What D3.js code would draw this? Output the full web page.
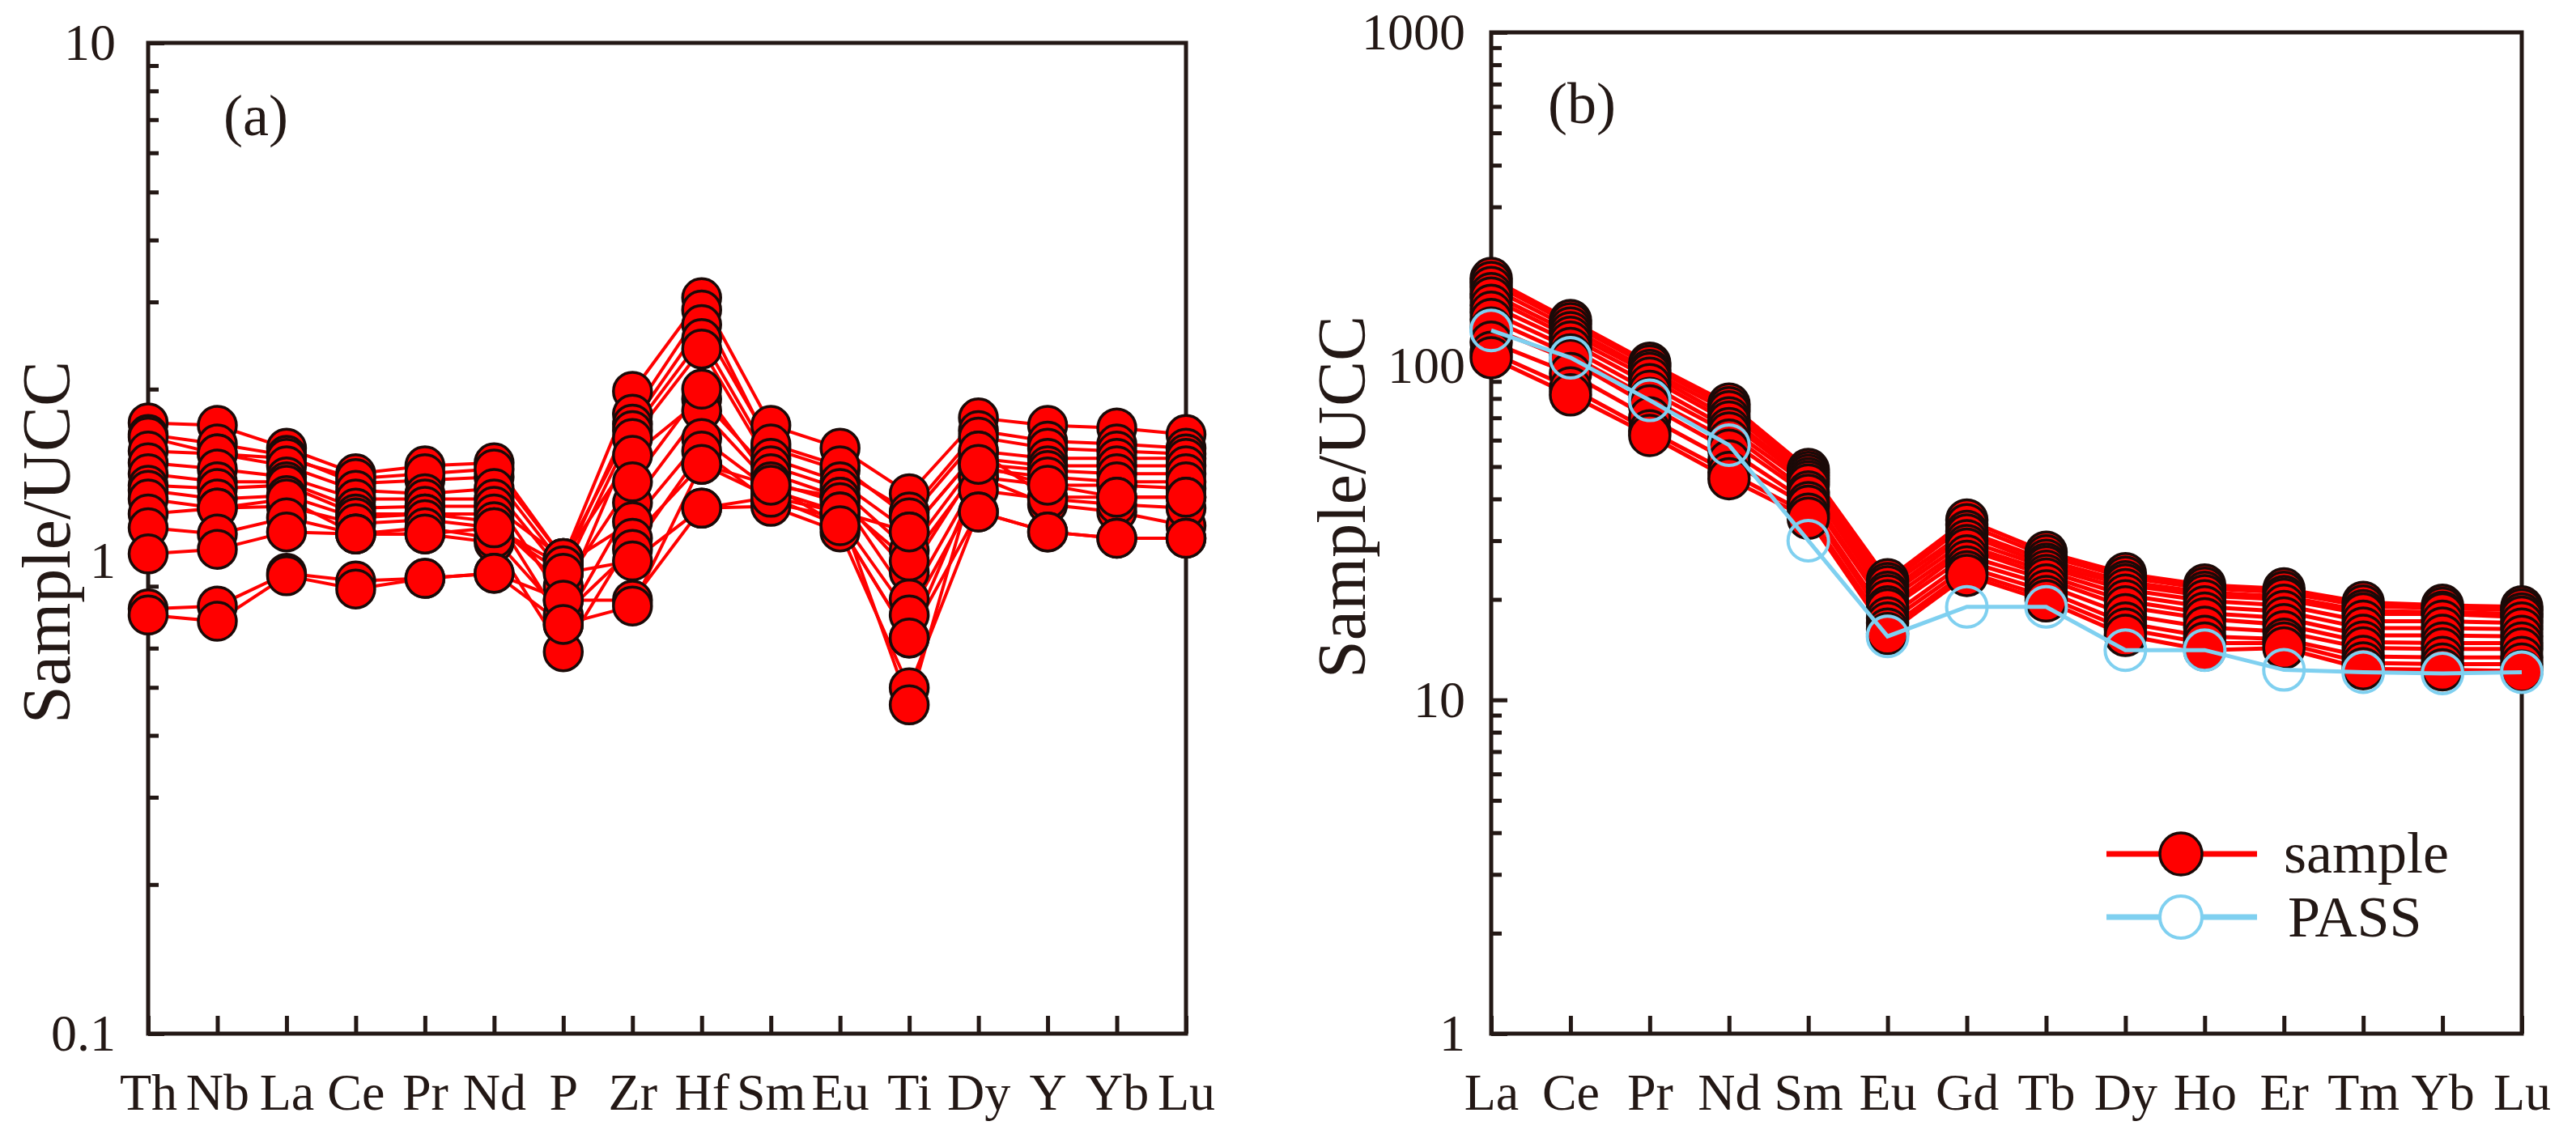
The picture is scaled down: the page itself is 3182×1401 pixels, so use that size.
<!DOCTYPE html>
<html>
<head>
<meta charset="utf-8">
<script src="https://cdn.jsdelivr.net/npm/d3@7"></script>
<style>
  body { margin: 0; background: #ffffff; }
  #chart { width: 3182px; height: 1401px; }
  svg, svg text { font-family: "Liberation Serif", "Times New Roman", Times, serif !important; }
</style>
</head>
<body>
<div id="chart"></div>
<script>

/*   0. DATA   */

// (a) trace elements normalised to upper continental crust
const elementsA = ["Th", "Nb", "La", "Ce", "Pr", "Nd", "P", "Zr", "Hf", "Sm", "Eu", "Ti", "Dy", "Y", "Yb", "Lu"];
const samplesA = [
    [1.71, 1.69, 1.52, 1.35, 1.40, 1.42, 0.91, 1.98, 3.06, 1.69, 1.52, 1.23, 1.75, 1.69, 1.67, 1.62],
    [1.62, 1.55, 1.47, 1.29, 1.31, 1.33, 0.88, 1.78, 2.89, 1.52, 1.37, 1.13, 1.65, 1.57, 1.55, 1.52],
    [1.60, 1.48, 1.45, 1.32, 1.35, 1.38, 0.91, 1.70, 2.70, 1.55, 1.40, 1.10, 1.60, 1.52, 1.50, 1.48],
    [1.50, 1.48, 1.40, 1.25, 1.23, 1.26, 0.85, 1.65, 2.53, 1.45, 1.30, 1.03, 1.50, 1.45, 1.45, 1.45],
    [1.42, 1.38, 1.33, 1.20, 1.20, 1.20, 0.75, 1.59, 2.41, 1.40, 1.26, 0.945, 1.45, 1.40, 1.40, 1.40],
    [1.35, 1.30, 1.30, 1.15, 1.16, 1.16, 0.91, 1.47, 1.91, 1.35, 1.21, 0.854, 1.41, 1.37, 1.35, 1.35],
    [1.28, 1.26, 1.28, 1.12, 1.12, 1.12, 0.67, 1.18, 1.81, 1.28, 1.21, 0.754, 1.33, 1.28, 1.28, 1.26],
    [1.25, 1.20, 1.22, 1.10, 1.12, 1.08, 0.80, 1.30, 2.00, 1.30, 1.18, 0.90, 1.38, 1.33, 1.30, 1.30],
    [1.20, 1.15, 1.16, 1.07, 1.09, 1.05, 0.88, 1.08, 1.59, 1.25, 1.13, 1.03, 1.50, 1.21, 1.21, 1.21],
    [1.12, 1.15, 1.20, 1.02, 1.02, 0.98, 0.59, 1.00, 1.41, 1.21, 1.06, 0.629, 1.33, 1.17, 1.13, 1.06],
    [1.05, 1.02, 1.10, 1.02, 1.05, 1.00, 0.70, 0.95, 1.50, 1.18, 1.10, 0.70, 1.25, 1.20, 1.17, 1.15],
    [0.93, 0.95, 1.03, 1.02, 1.02, 1.05, 0.85, 0.90, 1.15, 1.16, 1.03, 0.499, 1.13, 1.03, 1.00, 1.00],
    [0.72, 0.73, 0.85, 0.82, 0.83, 0.85, 0.75, 0.75, 1.15, 1.21, 1.13, 0.461, 1.41, 1.28, 1.21, 1.21],
    [0.70, 0.68, 0.84, 0.79, 0.83, 0.85, 0.67, 0.73, 1.41, 1.28, 1.06, 0.629, 1.13, 1.03, 1.00, 1.00]
];
const ticksA = [0.1, 1, 10];

// (b) rare earth elements
const elementsB = ["La", "Ce", "Pr", "Nd", "Sm", "Eu", "Gd", "Tb", "Dy", "Ho", "Er", "Tm", "Yb", "Lu"];
const samplesB = [
    [183, 137, 102, 77, 49, 22.9, 34.6, 27.7, 23.9, 22.1, 21.5, 19.6, 19.2, 19.0],
    [178, 134, 100, 75, 48, 22.3, 33.5, 27.0, 23.3, 21.6, 21.0, 19.1, 18.8, 18.6],
    [172, 130, 97, 73, 47, 21.8, 32.0, 26.2, 22.6, 21.0, 20.4, 18.5, 18.3, 18.1],
    [165, 126, 95, 70, 46, 21.0, 31.2, 25.5, 22.1, 20.5, 20.0, 18.1, 18.1, 17.7],
    [160, 122, 92, 68, 45, 20.5, 30.0, 25.0, 21.4, 19.8, 19.2, 17.2, 17.2, 17.0],
    [152, 118, 88, 65, 44, 19.8, 29.0, 24.3, 20.6, 19.0, 18.4, 16.4, 16.4, 16.3],
    [145, 113, 84, 63, 42, 19.0, 28.3, 23.6, 19.8, 18.2, 17.6, 15.6, 15.6, 15.5],
    [138, 108, 80, 60, 41, 18.6, 27.0, 23.0, 19.0, 17.5, 16.8, 14.9, 14.8, 14.8],
    [130, 104, 76, 56, 39, 17.6, 26.0, 22.1, 18.0, 16.5, 16.0, 14.3, 14.2, 14.2],
    [118, 95, 70, 52, 38, 17.0, 25.0, 21.2, 17.0, 15.5, 15.2, 13.5, 13.4, 13.4],
    [110, 86, 64, 48, 36, 16.3, 24.2, 20.4, 16.3, 14.8, 14.8, 12.9, 12.8, 12.8],
    [106, 82, 62, 46, 35, 15.8, 23.6, 19.8, 15.6, 14.1, 14.3, 12.4, 12.3, 12.2]
];
const passB = [128, 106, 79, 58, 30, 15.5, 19.0, 19.0, 14.1, 14.1, 12.3, 12.1, 12.0, 12.1];
const ticksB = [1, 10, 100, 1000];

const legendLabels = ["sample", "PASS"];


/*   1. SVG CANVAS   */

const width = 3182;
const height = 1401;

const ink = "#231815";
const red = "#ff0000";
const sky = "#7fd0f0";
const serif = '"Liberation Serif", "Times New Roman", Times, serif';

const svg = d3.select("#chart")
    .append("svg")
    .attr("width", width)
    .attr("height", height)
    .attr("font-family", serif);

svg.append("rect")
    .attr("width", width)
    .attr("height", height)
    .attr("fill", "#ffffff");


/*   2. ONE PANEL   */

function drawPanel(p) {

    const xScale = d3.scalePoint()
        .domain(p.elements)
        .range([p.left, p.right]);

    const yScale = d3.scaleLog()
        .domain(p.yDomain)
        .range([p.bottom, p.top]);

    // minor ticks 2..9 in every decade
    const minors = [];
    for (let d = p.yDomain[0]; d < p.yDomain[1] * 0.99; d *= 10) {
        for (let k = 2; k <= 9; k++) minors.push(+(d * k).toPrecision(3));
    }

    const g = svg.append("g");

    // minor ticks, inward
    g.append("g")
        .attr("transform", `translate(${p.left},0)`)
        .call(d3.axisLeft(yScale).tickValues(minors).tickSize(-13).tickFormat(""))
        .call(a => a.select(".domain").remove())
        .selectAll("line")
        .attr("stroke", ink)
        .attr("stroke-width", 5);

    // major ticks + labels
    const yAxis = g.append("g")
        .attr("transform", `translate(${p.left},0)`)
        .call(d3.axisLeft(yScale).tickValues(p.yTicks).tickSize(-20)
            .tickPadding(p.labelGap).tickFormat(d3.format("~g")));
    yAxis.attr("font-family", serif).attr("font-size", 64);
    yAxis.select(".domain").remove();
    yAxis.selectAll("line").attr("stroke", ink).attr("stroke-width", 5);
    yAxis.selectAll("text")
        .attr("fill", ink)
        .attr("y", d => p.labelShift[d] || 0);

    // category axis, ticks pointing up into the plot
    const xAxis = g.append("g")
        .attr("transform", `translate(0,${p.bottom})`)
        .call(d3.axisBottom(xScale).tickSize(-22).tickPadding(49));
    xAxis.attr("font-family", serif).attr("font-size", 64);
    xAxis.select(".domain").remove();
    xAxis.selectAll("line").attr("stroke", ink).attr("stroke-width", 5);
    xAxis.selectAll("text").attr("fill", ink);

    // frame
    g.append("rect")
        .attr("x", p.left)
        .attr("y", p.top)
        .attr("width", p.right - p.left)
        .attr("height", p.bottom - p.top)
        .attr("fill", "none")
        .attr("stroke", ink)
        .attr("stroke-width", 5);

    // axis title
    g.append("text")
        .attr("transform", `translate(${p.titleX},${p.titleY}) rotate(-90)`)
        .attr("text-anchor", "middle")
        .attr("font-size", 84)
        .attr("fill", ink)
        .text("Sample/UCC");

    // panel tag
    g.append("text")
        .attr("x", p.tagX)
        .attr("y", p.tagY)
        .attr("font-size", 72)
        .attr("fill", ink)
        .text(p.tag);

    const line = d3.line()
        .x((d, i) => xScale(p.elements[i]))
        .y(d => yScale(d));

    // sample lines first, then markers on top
    g.selectAll(".sampleLine")
        .data(p.samples)
        .enter()
        .append("path")
            .attr("class", "sampleLine")
            .attr("d", line)
            .attr("fill", "none")
            .attr("stroke", red)
            .attr("stroke-width", p.lineWidth);

    const pts = [];
    p.samples.forEach(row => row.forEach((v, i) => pts.push({el: p.elements[i], v: v})));

    g.selectAll(".samplePoint")
        .data(pts)
        .enter()
        .append("circle")
            .attr("class", "samplePoint")
            .attr("cx", d => xScale(d.el))
            .attr("cy", d => yScale(d.v))
            .attr("r", p.r)
            .attr("fill", red)
            .attr("stroke", "#1a0a08")
            .attr("stroke-width", 3.5);

    if (p.pass) {
        g.append("path")
            .datum(p.pass)
            .attr("d", line)
            .attr("fill", "none")
            .attr("stroke", sky)
            .attr("stroke-width", 5);

        g.selectAll(".passPoint")
            .data(p.pass)
            .enter()
            .append("circle")
                .attr("class", "passPoint")
                .attr("cx", (d, i) => xScale(p.elements[i]))
                .attr("cy", d => yScale(d))
                .attr("r", p.r)
                .attr("fill", "none")
                .attr("stroke", sky)
                .attr("stroke-width", 4);
    }
}


/*   3. DRAW BOTH PANELS   */

drawPanel({
    elements: elementsA, samples: samplesA, pass: null,
    yDomain: [0.1, 10], yTicks: ticksA, labelShift: {1: 28},
    left: 183, right: 1465, top: 53, bottom: 1277,
    labelGap: 40, titleX: 86, titleY: 670,
    tag: "(a)", tagX: 276, tagY: 167,
    r: 23.5, lineWidth: 4
});

drawPanel({
    elements: elementsB, samples: samplesB, pass: passB,
    yDomain: [1, 1000], yTicks: ticksB, labelShift: {},
    left: 1842, right: 3115, top: 40, bottom: 1277,
    labelGap: 32, titleX: 1686, titleY: 614,
    tag: "(b)", tagX: 1912, tagY: 152,
    r: 25, lineWidth: 5
});


/*   4. LEGEND (panel b)   */

const legend = svg.append("g")
    .attr("transform", "translate(2602,1055)");

legend.append("line")
    .attr("x1", 0).attr("x2", 186)
    .attr("y1", 0).attr("y2", 0)
    .attr("stroke", red)
    .attr("stroke-width", 7);

legend.append("circle")
    .attr("cx", 92).attr("cy", 0).attr("r", 26)
    .attr("fill", red)
    .attr("stroke", "#1a0a08")
    .attr("stroke-width", 3.5);

legend.append("line")
    .attr("x1", 0).attr("x2", 186)
    .attr("y1", 78).attr("y2", 78)
    .attr("stroke", sky)
    .attr("stroke-width", 7);

legend.append("circle")
    .attr("cx", 92).attr("cy", 78).attr("r", 26)
    .attr("fill", "#ffffff")
    .attr("stroke", sky)
    .attr("stroke-width", 4);

legend.selectAll(".legendText")
    .data(legendLabels)
    .enter()
    .append("text")
        .attr("class", "legendText")
        .attr("x", (d, i) => i === 0 ? 219 : 224)
        .attr("y", (d, i) => i === 0 ? 23 : 102)
        .attr("font-size", 72)
        .attr("fill", ink)
        .text(d => d);

</script>
</body>
</html>
